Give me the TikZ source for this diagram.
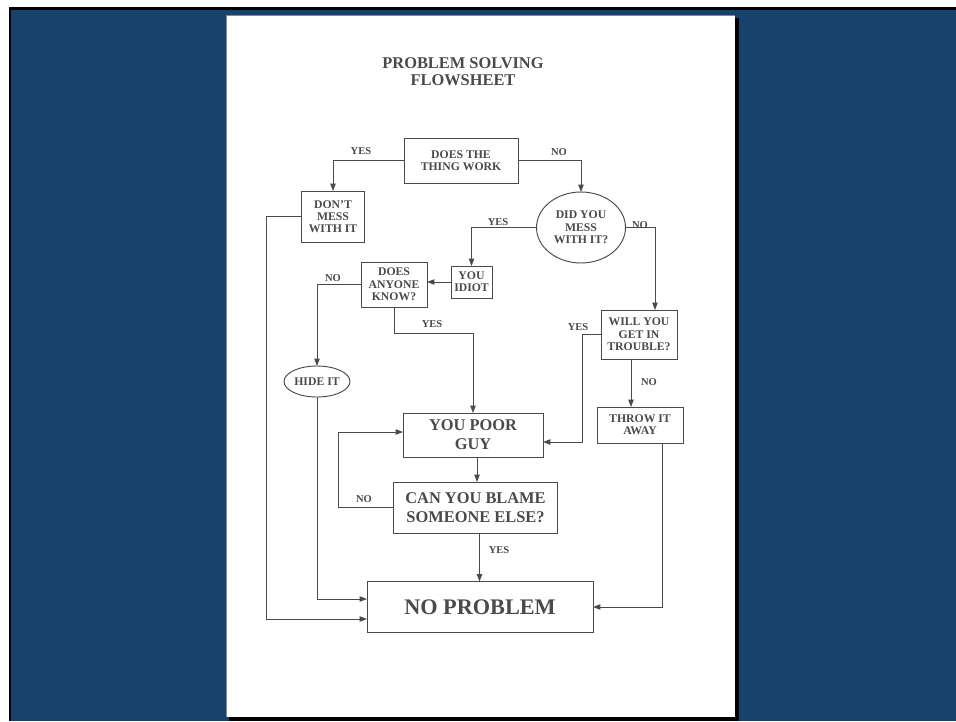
\documentclass[tikz,border=0pt]{standalone}
\usepackage{fontspec}
\setmainfont{Liberation Serif}
\usepackage{xcolor}
\definecolor{slideblue}{HTML}{17426B}
\definecolor{inkgray}{HTML}{4A4A4A}
\definecolor{edgegray}{HTML}{8A8A85}
\usetikzlibrary{arrows.meta, calc, shapes.geometric}

\begin{document}
\begin{tikzpicture}[x=0.3mm, y=-0.3mm, inkgray,
  box/.style={draw=inkgray, line width=0.8pt, align=center, inner sep=0pt, outer sep=0pt,
    font=\fontsize{10}{10.5}\selectfont\bfseries},
  oval/.style={box, ellipse},
  bigbox/.style={box, font=\fontsize{14}{16}\selectfont\bfseries},
  sz/.style 2 args={minimum width=#1*0.3mm, minimum height=#2*0.3mm},
  lbl/.style={font=\fontsize{9}{10}\selectfont\bfseries},
  flow/.style={draw=inkgray, line width=0.8pt, -{Triangle[length=2.2mm, width=1.6mm]}}]
  \useasboundingbox (0,0) rectangle (956,721);
  % slide and page
  \fill[white] (0,0) rectangle (956,721);
  \fill[black] (9,7) rectangle (956,721);
  \fill[slideblue] (11,10) rectangle (956,721);
  \fill[black] (229,18) rectangle (739,721);
  \fill[white] (226,15) rectangle (735,717);
  \draw[edgegray, line width=0.8pt] (226.5,717) -- (226.5,15.5) -- (735,15.5);

  \node[font=\fontsize{14}{14.5}\selectfont\bfseries, align=center] (title) at (463,72)
    {PROBLEM SOLVING\\FLOWSHEET};

  % questions and answers
  \node[box, sz={114}{45}] (work) at (461,160.5) {DOES THE\\THING WORK};
  \node[box, sz={63}{51}] (dont) at (333,216.5) {DON'T\\MESS\\WITH IT};
  \node[oval, sz={89}{71}] (mess) at (581,227.5) {DID YOU\\MESS\\WITH IT?};
  \node[box, sz={41}{32}] (idiot) at (471.5,282) {YOU\\IDIOT};
  \node[box, sz={66}{45}] (anyone) at (394,284.5) {DOES\\ANYONE\\KNOW?};
  \node[oval, sz={66}{31}] (hide) at (317,381.5) {HIDE IT};
  \node[box, sz={76}{49}] (trouble) at (639,334.5) {WILL YOU\\GET IN\\TROUBLE?};
  \node[box, sz={86}{36}] (throw) at (640,425) {THROW IT\\AWAY};
  \node[bigbox, sz={140}{44}] (poor) at (473,435) {YOU POOR\\GUY};
  \node[bigbox, sz={164}{51}] (blame) at (475.5,507.5) {CAN YOU BLAME\\SOMEONE ELSE?};
  \node[box, sz={226}{51}, font=\fontsize{19}{20}\selectfont\bfseries] (noprob) at (480,607)
    {NO PROBLEM};
  \coordinate (outer) at (266,619);
  \coordinate (t-out) at ($(trouble.south)+(-8,0)$);
  \coordinate (a-out) at ($(throw.south)+(22,0)$);
  \coordinate (p-out) at ($(poor.south)+(4,0)$);
  \coordinate (b-out) at ($(blame.south)+(4,0)$);

  % connectors
  \draw[flow] (work.west) -| (dont.north);
  \draw[flow] (work.east) -| (mess.north);
  \draw[flow] (dont.west) -| (outer) -- (outer -| noprob.west);
  \draw[flow] (mess.west) -| (idiot.north);
  \draw[flow] (mess.east) -| ($(trouble.north)+(16,0)$);
  \draw[flow] (idiot.west) -- (anyone.east |- idiot.west);
  \draw[flow] (anyone.west) -| (hide.north);
  \draw[flow] (anyone.south) -- ++(0,26) -| (poor.north);
  \draw[flow] (hide.south) |- ($(noprob.west)+(0,-8)$);
  \draw[flow] (trouble.west) -- ++(-19,0) |- ($(poor.east)+(0,7)$);
  \draw[flow] (t-out) -- (t-out |- throw.north);
  \draw[flow] (a-out) |- (noprob.east);
  \draw[flow] (p-out) -- (p-out |- blame.north);
  \draw[flow] (b-out) -- (b-out |- noprob.north);
  \draw[flow] (blame.west) -- ++(-55,0) |- ($(poor.west)+(0,-3)$);

  % answers
  \node[lbl] (w-yes) at (361,151) {YES};
  \node[lbl] (w-no) at (559,152) {NO};
  \node[lbl] (m-yes) at (498,222) {YES};
  \node[lbl] (m-no) at (640,225) {NO};
  \node[lbl] (a-no) at (333,278) {NO};
  \node[lbl] (a-yes) at (432,324) {YES};
  \node[lbl] (t-yes) at (578,327) {YES};
  \node[lbl] (t-no) at (649,382) {NO};
  \node[lbl] (b-no) at (364,499) {NO};
  \node[lbl] (b-yes) at (499,550) {YES};
\end{tikzpicture}
\end{document}
